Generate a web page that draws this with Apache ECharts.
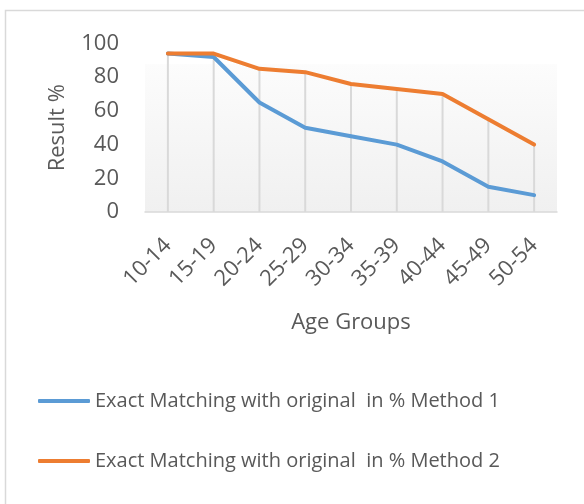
<!DOCTYPE html>
<html>
<head>
<meta charset="utf-8">
<script src="https://cdn.jsdelivr.net/npm/echarts@6/dist/echarts.min.js"></script>
<style>
  html, body { margin: 0; padding: 0; background: #fff; }
  #chart { width: 584px; height: 504px; }
</style>
</head>
<body>
<div id="chart"></div>
<script>
const ageGroups = ['10-14', '15-19', '20-24', '25-29', '30-34', '35-39', '40-44', '45-49', '50-54'];
const method1 = [94, 92, 65, 50, 45, 40, 30, 15, 10];
const method2 = [94, 94, 85, 83, 76, 73, 70, 55, 40];
const seriesNames = [
  'Exact Matching with original  in % Method 1',
  'Exact Matching with original  in % Method 2',
];

const textColor = '#595959';
const font = 'Open Sans';

const chart = echarts.init(document.getElementById('chart'));

// drop lines: one per category, from the top value down to the axis
const dropTops = method1.map((v, i) => Math.max(v, method2[i]));

chart.setOption({
  animation: false,
  textStyle: { fontFamily: font },
  graphic: [
    {
      type: 'rect',
      shape: { x: 5.5, y: 10.5, width: 700, height: 700 },
      style: { fill: null, stroke: '#d9d9d9', lineWidth: 1.5 },
      silent: true,
    },
  ],
  grid: {
    left: 145,
    right: 27,
    top: 43.5,
    bottom: 292,
    show: true,
    borderWidth: 0,
    backgroundColor: new echarts.graphic.LinearGradient(0, 0, 0, 1, [
      { offset: 0, color: '#ffffff' },
      { offset: 0.12, color: '#ffffff' },
      { offset: 0.125, color: '#fcfcfc' },
      { offset: 1, color: '#f0f0f0' },
    ]),
  },
  legend: {
    orient: 'vertical',
    left: 38,
    top: 391,
    padding: 0,
    icon: 'roundRect',
    itemWidth: 52,
    itemHeight: 4,
    itemGap: 40,
    data: seriesNames,
    textStyle: { fontSize: 20, color: textColor, fontFamily: font },
  },
  xAxis: {
    type: 'category',
    data: ageGroups,
    name: 'Age Groups',
    nameLocation: 'middle',
    nameGap: 100,
    nameTextStyle: { fontSize: 22, color: textColor },
    axisLine: { lineStyle: { color: '#d9d9d9', width: 1.5 } },
    axisTick: { show: false },
    axisLabel: { rotate: 45, fontSize: 22, color: textColor, margin: 30, interval: 0 },
    splitLine: { show: false },
  },
  yAxis: {
    type: 'value',
    min: 0,
    max: 100,
    interval: 20,
    name: 'Result %',
    nameLocation: 'middle',
    nameGap: 76,
    nameTextStyle: { fontSize: 22, color: textColor },
    axisLine: { show: false },
    axisTick: { show: false },
    axisLabel: { fontSize: 22, color: textColor, margin: 26 },
    splitLine: { show: false },
  },
  series: [
    {
      name: 'drop',
      type: 'bar',
      data: dropTops,
      barWidth: 2,
      silent: true,
      z: 1,
      itemStyle: { color: '#d9d9d9' },
    },
    {
      name: seriesNames[0],
      type: 'line',
      data: method1,
      symbol: 'none',
      z: 3,
      lineStyle: { color: '#5b9bd5', width: 4, cap: 'round', join: 'round' },
      itemStyle: { color: '#5b9bd5' },
    },
    {
      name: seriesNames[1],
      type: 'line',
      data: method2,
      symbol: 'none',
      z: 4,
      lineStyle: { color: '#ed7d31', width: 4, cap: 'round', join: 'round' },
      itemStyle: { color: '#ed7d31' },
    },
  ],
});
</script>
</body>
</html>
